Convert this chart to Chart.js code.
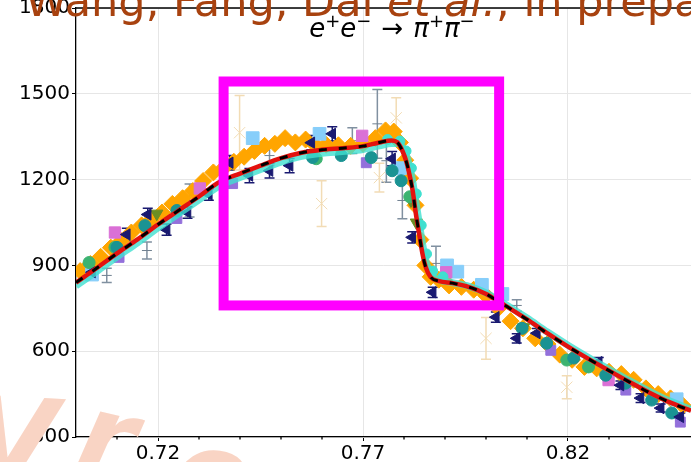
<!DOCTYPE html>
<html>
<head>
<meta charset="utf-8">
<script src="https://cdn.jsdelivr.net/npm/chart.js@4.4.0/dist/chart.umd.min.js"></script>
<style>
  html, body { margin: 0; padding: 0; background: #fff; }
  #wrap { width: 691px; height: 462px; overflow: hidden; }
</style>
</head>
<body>
<div id="wrap"><canvas id="chart" width="691" height="462"></canvas></div>
<script>
// ---- axis ticks ----
const xTicks = [0.72, 0.77, 0.82];
const xMinorTicks = [0.71, 0.73, 0.74, 0.75, 0.76, 0.78, 0.79, 0.80, 0.81, 0.83, 0.84];
const yTicks = [300, 600, 900, 1200, 1500, 1800];

// ---- fit curve (red + black dashed) and the cyan band ----
const fitX = [0.700, 0.705, 0.710, 0.715, 0.720, 0.725, 0.730, 0.735, 0.740, 0.745, 0.750, 0.755, 0.760, 0.765, 0.770, 0.774, 0.777, 0.7784, 0.7796, 0.7805, 0.7813, 0.7821, 0.7829, 0.7837, 0.7845, 0.7853, 0.7865, 0.7886, 0.7918, 0.7959, 0.7999, 0.8019, 0.805, 0.810, 0.815, 0.820, 0.825, 0.830, 0.835, 0.840, 0.845, 0.850];
const fitY = [840, 890, 942, 991, 1043, 1092, 1141, 1192, 1221, 1249, 1275, 1294, 1304, 1310, 1317, 1330, 1337, 1330, 1301, 1266, 1220, 1162, 1080, 1010, 941, 894, 859, 845, 838, 824, 801, 784, 757, 711, 662, 616, 573, 532, 492, 454, 420, 392];
const bandY = [828, 878, 930, 979, 1031, 1080, 1129, 1178, 1207, 1235, 1261, 1281, 1292, 1298, 1305, 1318, 1326, 1326, 1314, 1290, 1250, 1196, 1122, 1050, 978, 918, 871, 850, 840, 827, 805, 789, 762, 716, 667, 621, 578, 537, 497, 459, 425, 397];

// ---- data sets ----
const orangeX = [0.7010, 0.7035, 0.7060, 0.7085, 0.7110, 0.7135, 0.7160, 0.7185, 0.7210, 0.7235, 0.7260, 0.7285, 0.7310, 0.7335, 0.7360, 0.7385, 0.7410, 0.7435, 0.7460, 0.7485, 0.7510, 0.7535, 0.7560, 0.7585, 0.7610, 0.7640, 0.7670, 0.7700, 0.7730, 0.7755, 0.7775, 0.7790, 0.7803, 0.7815, 0.7828, 0.7840, 0.7852, 0.7865, 0.7885, 0.7910, 0.7940, 0.7970, 0.8000, 0.8030, 0.8060, 0.8090, 0.8120, 0.8150, 0.8180, 0.8210, 0.8240, 0.8270, 0.8300, 0.8330, 0.8360, 0.8390, 0.8420, 0.8450, 0.8480];
const orangeY = [880, 905, 930, 962, 985, 1015, 1040, 1062, 1085, 1115, 1135, 1160, 1195, 1225, 1240, 1262, 1280, 1300, 1318, 1325, 1345, 1330, 1340, 1318, 1322, 1320, 1318, 1325, 1345, 1372, 1368, 1330, 1268, 1205, 1110, 990, 900, 860, 850, 830, 825, 815, 795, 750, 705, 680, 645, 625, 588, 570, 545, 540, 528, 520, 500, 470, 450, 435, 410];

const skyX = [0.7039, 0.7431, 0.7594, 0.7790, 0.7905, 0.7930, 0.7990, 0.8040, 0.8465];
const skyY = [868, 1345, 1360, 1240, 900, 878, 832, 800, 432];

const navyX = [0.7039, 0.7124, 0.7175, 0.7221, 0.7272, 0.7324, 0.7375, 0.7423, 0.7472, 0.7521, 0.7574, 0.7625, 0.7771, 0.7820, 0.7870, 0.8024, 0.8075, 0.8124, 0.8275, 0.8328, 0.8377, 0.8426, 0.8474];
const navyY = [876, 1008, 1078, 1025, 1085, 1148, 1259, 1214, 1231, 1249, 1329, 1360, 1273, 998, 806, 719, 645, 663, 562, 481, 436, 401, 370];
const navyErr = [20, 22, 22, 20, 20, 20, 25, 25, 25, 25, 25, 25, 25, 20, 18, 18, 16, 16, 16, 15, 15, 14, 14];

const tealX = [0.7100, 0.7168, 0.7246, 0.7577, 0.7647, 0.7720, 0.7771, 0.7793, 0.8088, 0.8148, 0.8214, 0.8292, 0.8340, 0.8404, 0.8453];
const tealY = [963, 1039, 1092, 1277, 1284, 1277, 1231, 1196, 680, 628, 576, 516, 488, 429, 384];

const greenX = [0.7032, 0.7095, 0.7586, 0.7814, 0.8197, 0.8250];
const greenY = [910, 963, 1273, 1140, 569, 545];

const oliveX = [0.7197, 0.7817, 0.7830, 0.8092, 0.8207];
const oliveY = [1081, 1127, 1050, 684, 576];

const orchidX = [0.7095, 0.7302, 0.7698, 0.7903, 0.8299];
const orchidY = [1015, 1169, 1353, 876, 499];

const purpleX = [0.7105, 0.7246, 0.7382, 0.7708, 0.8158, 0.8341, 0.8474];
const purpleY = [928, 1064, 1186, 1259, 603, 464, 352];

const turqX = [0.7760, 0.7790, 0.7805, 0.7818, 0.7830, 0.7842, 0.7855, 0.7870, 0.7895];
const turqY = [1340, 1335, 1300, 1240, 1150, 1040, 940, 880, 860];

const grayX = [0.7075, 0.7173, 0.7277, 0.7472, 0.7674, 0.7735, 0.7757, 0.7796, 0.7878, 0.8075];
const grayY = [865, 952, 1127, 1284, 1336, 1395, 1266, 1127, 907, 760];
const grayErr = [25, 30, 58, 35, 45, 120, 75, 64, 60, 20];

const wheatX = [0.7399, 0.7599, 0.7740, 0.7781, 0.8000, 0.8197];
const wheatY = [1364, 1116, 1207, 1416, 645, 474];
const wheatErr = [130, 80, 50, 70, 73, 40];

// magenta box, in data units: [xmin, xmax, ymin, ymax]
const highlightBox = [0.7360, 0.8032, 760, 1543];

const pts = (xs, ys) => xs.map((x, i) => ({ x: x, y: ys[i] }));

function markers(label, xs, ys, color, style, radius, rotation, order, errs, errColor) {
    return {
        type: 'scatter', label: label, data: pts(xs, ys),
        backgroundColor: color, borderColor: color, borderWidth: 1,
        pointStyle: style, pointRadius: radius, pointRotation: rotation || 0,
        order: order, errors: errs, errorColor: errColor
    };
}

// error bars drawn under the markers, positions from the chart scales
const errorBars = {
    id: 'errorBars',
    beforeDatasetsDraw(chart) {
        const { ctx, chartArea, scales } = chart;
        ctx.save();
        ctx.beginPath();
        ctx.rect(chartArea.left, chartArea.top, chartArea.right - chartArea.left, chartArea.bottom - chartArea.top);
        ctx.clip();
        chart.data.datasets.forEach(ds => {
            if (!ds.errors) return;
            ctx.strokeStyle = ds.errorColor;
            ctx.lineWidth = 1.5;
            ds.data.forEach((p, j) => {
                const px = scales.x.getPixelForValue(p.x);
                const top = scales.y.getPixelForValue(p.y + ds.errors[j]);
                const bot = scales.y.getPixelForValue(p.y - ds.errors[j]);
                ctx.beginPath();
                ctx.moveTo(px, top); ctx.lineTo(px, bot);
                ctx.moveTo(px - 5, top); ctx.lineTo(px + 5, top);
                ctx.moveTo(px - 5, bot); ctx.lineTo(px + 5, bot);
                ctx.stroke();
            });
        });
        ctx.restore();
    }
};

function drawRuns(ctx, runs, x, y) {
    runs.forEach(r => {
        ctx.font = r.font;
        ctx.fillText(r.text, x, y - (r.raise || 0));
        x += ctx.measureText(r.text).width + (r.gap || 0);
    });
}

function runsWidth(ctx, runs) {
    let w = 0;
    runs.forEach(r => { ctx.font = r.font; w += ctx.measureText(r.text).width + (r.gap || 0); });
    return w;
}

const overlays = {
    id: 'overlays',
    afterDraw(chart) {
        const { ctx, chartArea, scales } = chart;
        ctx.save();

        // top frame and minor x ticks
        ctx.strokeStyle = '#000';
        ctx.lineWidth = 1.3;
        ctx.beginPath();
        ctx.moveTo(chartArea.left, chartArea.top);
        ctx.lineTo(chartArea.right, chartArea.top);
        xMinorTicks.forEach(v => {
            const px = scales.x.getPixelForValue(v);
            ctx.moveTo(px, chartArea.bottom);
            ctx.lineTo(px, chartArea.bottom + 2.5);
        });
        ctx.stroke();

        // magenta box
        const bx0 = scales.x.getPixelForValue(highlightBox[0]);
        const bx1 = scales.x.getPixelForValue(highlightBox[1]);
        const by0 = scales.y.getPixelForValue(highlightBox[3]);
        const by1 = scales.y.getPixelForValue(highlightBox[2]);
        ctx.strokeStyle = '#ff00ff';
        ctx.lineWidth = 10;
        ctx.strokeRect(bx0, by0, bx1 - bx0, by1 - by0);

        // title
        const it = "oblique 26px 'DejaVu Sans'";
        const rm = "26px 'DejaVu Sans'";
        const sup = "18px 'DejaVu Sans'";
        const title = [
            { text: 'e', font: it },
            { text: '+', font: sup, raise: 10 },
            { text: 'e', font: it },
            { text: '\u2212', font: sup, raise: 10, gap: 10 },
            { text: '\u2192', font: rm, gap: 10 },
            { text: '\u03c0', font: it },
            { text: '+', font: sup, raise: 10 },
            { text: '\u03c0', font: it },
            { text: '\u2212', font: sup, raise: 10 }
        ];
        ctx.fillStyle = '#000';
        ctx.textBaseline = 'alphabetic';
        ctx.textAlign = 'left';
        drawRuns(ctx, title, 392 - runsWidth(ctx, title) / 2, 37);

        // brown credit text
        ctx.fillStyle = '#a8420f';
        drawRuns(ctx, [
            { text: 'Wang, Fang, Dai ', font: "43px 'DejaVu Sans'" },
            { text: 'et al.', font: "oblique 43px 'DejaVu Sans'" },
            { text: ', in preparation', font: "43px 'DejaVu Sans'" }
        ], 25, 16);

        // watermark letters (cropped at the bottom edge)
        ctx.fillStyle = '#f9d4c4';
        ctx.font = "italic bold 112px 'DejaVu Sans'";
        [['V', -32, 476, 0.05], ['r', 72, 468, 0.22], ['e', 166, 500, 0.28]].forEach(w => {
            ctx.save();
            ctx.translate(w[1], w[2]);
            ctx.rotate(w[3]);
            ctx.fillText(w[0], 0, 0);
            ctx.restore();
        });
        ctx.restore();
    }
};

new Chart(document.getElementById('chart'), {
    type: 'scatter',
    data: {
        datasets: [
            { type: 'line', label: 'fit dashed', data: pts(fitX, fitY), borderColor: '#000', borderWidth: 3,
              borderDash: [8, 12], pointRadius: 0, cubicInterpolationMode: 'monotone', order: 0 },
            { type: 'line', label: 'fit', data: pts(fitX, fitY), borderColor: '#e3120f', borderWidth: 4.5,
              pointRadius: 0, cubicInterpolationMode: 'monotone', order: 1 },
            { type: 'line', label: 'band', data: pts(fitX, bandY), borderColor: 'rgba(64,224,208,0.8)', borderWidth: 7,
              pointRadius: 0, cubicInterpolationMode: 'monotone', order: 2 },
            markers('turquoise', turqX, turqY, '#40e0d0', 'circle', 5, 0, 3),
            markers('navy', navyX, navyY, '#191970', 'triangle', 6.5, -90, 4, navyErr, '#191970'),
            markers('teal', tealX, tealY, '#1a9393', 'circle', 6, 0, 5),
            markers('green', greenX, greenY, '#3cb371', 'circle', 6, 0, 6),
            markers('olive', oliveX, oliveY, '#6b8e23', 'triangle', 7, 180, 7),
            markers('orchid', orchidX, orchidY, '#da70d6', 'rect', 8, 0, 8),
            markers('purple', purpleX, purpleY, '#9370db', 'rect', 7, 0, 9),
            markers('sky', skyX, skyY, '#87cefa', 'rect', 9, 0, 10),
            markers('orange', orangeX, orangeY, '#ffa500', 'rectRot', 8.5, 0, 11),
            markers('gray', grayX, grayY, '#708090', 'line', 5, 0, 12, grayErr, '#8090a0'),
            markers('wheat', wheatX, wheatY, '#f2dcb5', 'crossRot', 8, 0, 13, wheatErr, '#f2dcb5')
        ]
    },
    options: {
        responsive: false,
        devicePixelRatio: 1,
        animation: false,
        layout: { autoPadding: false, padding: { top: 8, right: 0, left: 0, bottom: 0 } },
        plugins: { legend: { display: false }, tooltip: { enabled: false } },
        scales: {
            x: {
                type: 'linear', min: 0.70, max: 0.85,
                afterBuildTicks: s => { s.ticks = xTicks.map(v => ({ value: v })); },
                afterFit: s => { s.height = 25; s.paddingLeft = 0; s.paddingRight = 0; },
                ticks: { color: '#000', font: { family: 'DejaVu Sans', size: 20 }, padding: 1,
                         maxRotation: 0, callback: v => v.toFixed(2) },
                grid: { color: '#e6e6e6', lineWidth: 1, tickLength: 4, tickColor: '#000' },
                border: { color: '#000', width: 1.3 }
            },
            y: {
                min: 300, max: 1800,
                afterBuildTicks: s => { s.ticks = yTicks.map(v => ({ value: v })); },
                afterFit: s => { s.width = 76; s.paddingTop = 0; s.paddingBottom = 0; },
                ticks: { color: '#000', font: { family: 'DejaVu Sans', size: 20 }, padding: 2,
                         callback: v => String(v) },
                grid: { color: '#e6e6e6', lineWidth: 1, tickLength: 4, tickColor: '#000' },
                border: { color: '#000', width: 1.3 }
            }
        }
    },
    plugins: [errorBars, overlays]
});
</script>
</body>
</html>
